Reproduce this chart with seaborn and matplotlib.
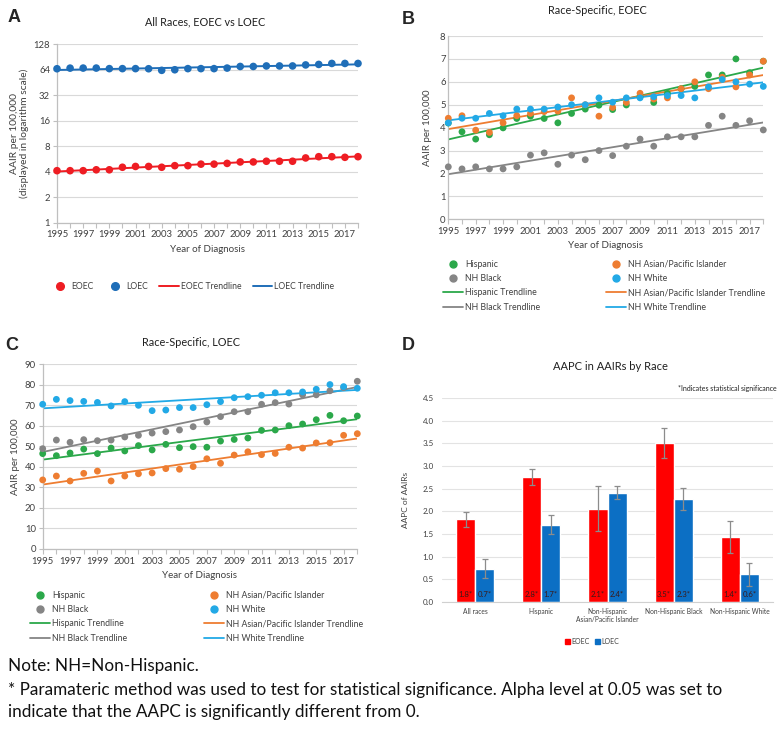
import numpy as np
import pandas as pd
import matplotlib
matplotlib.use("Agg")
import matplotlib.pyplot as plt
import seaborn as sns
from matplotlib.lines import Line2D
from matplotlib.patches import Patch
from matplotlib.ticker import FixedLocator, MultipleLocator

# ---------------- data ----------------
years = list(range(1995, 2019))

# Panel A: all races (log scale)
a_eoec = [4.1, 4.1, 4.1, 4.2, 4.2, 4.5, 4.6, 4.6, 4.5, 4.7, 4.7, 4.9, 4.9, 5.0,
          5.2, 5.2, 5.3, 5.3, 5.3, 5.8, 6.0, 6.0, 5.9, 6.0]
a_loec = [65.8, 66.9, 67.0, 67.0, 66.0, 66.0, 66.0, 65.8, 63.0, 64.0, 66.0, 66.0,
          66.0, 67.0, 70.0, 70.0, 71.0, 71.0, 71.0, 73.0, 74.0, 76.0, 76.0, 76.0]

# Panel B: race-specific EOEC
b_hispanic = [4.2, 3.82, 3.5, 3.69, 3.99, 4.4, 4.5, 4.4, 4.21, 4.62, 4.81, 4.98,
              4.79, 4.99, 5.35, 5.1, 5.5, 5.7, 5.8, 6.3, 6.3, 7.0, 6.4, 6.9]
b_api = [4.41, 4.52, 3.89, 3.79, 4.21, 4.52, 4.62, 4.7, 4.72, 5.3, 5.0, 4.5,
         4.88, 5.1, 5.5, 5.25, 5.3, 5.7, 6.0, 5.7, 6.2, 5.78, 6.3, 6.9]
b_black = [2.29, 2.2, 2.29, 2.2, 2.2, 2.29, 2.8, 2.9, 2.4, 2.8, 2.6, 3.0,
           2.78, 3.19, 3.5, 3.19, 3.6, 3.6, 3.6, 4.1, 4.5, 4.1, 4.3, 3.9]
b_white = [4.21, 4.41, 4.41, 4.62, 4.52, 4.81, 4.81, 4.81, 4.9, 5.0, 5.0, 5.3,
           5.11, 5.3, 5.3, 5.35, 5.4, 5.4, 5.3, 5.78, 6.1, 6.0, 5.9, 5.8]

# Panel C: race-specific LOEC
c_hispanic = [46.4, 45.4, 46.7, 48.6, 46.4, 49.1, 47.7, 50.3, 48.2, 50.9, 49.3, 49.8,
              49.5, 52.5, 53.3, 54.0, 57.7, 57.9, 60.0, 60.8, 62.9, 65.0, 62.4, 64.7]
c_api = [33.6, 35.5, 33.1, 36.8, 37.9, 33.1, 35.5, 36.6, 37.0, 39.1, 38.8, 40.1,
         43.9, 41.7, 45.7, 47.3, 45.9, 46.5, 49.5, 49.1, 51.6, 51.7, 55.3, 56.1]
c_black = [48.8, 53.0, 51.9, 53.2, 52.7, 53.0, 54.5, 55.3, 56.4, 57.1, 57.9, 59.5,
           61.8, 64.4, 66.8, 66.8, 70.4, 71.2, 70.5, 75.0, 75.0, 77.0, 78.5, 81.6]
c_white = [70.4, 72.8, 72.2, 71.8, 71.3, 69.6, 71.7, 69.9, 67.3, 67.6, 68.8, 68.8,
           70.2, 71.7, 73.6, 74.1, 74.8, 76.0, 76.0, 76.4, 77.7, 80.0, 79.0, 78.2]

# Panel D: AAPC
d_categories = ["All races", "Hispanic", "Non-Hispanic\nAsian/Pacific Islander",
                "Non-Hispanic Black", "Non-Hispanic White"]
d_eoec = [1.82, 2.76, 2.06, 3.51, 1.43]
d_loec = [0.73, 1.70, 2.41, 2.27, 0.61]
d_eoec_hi = [1.98, 2.93, 2.56, 3.84, 1.79]
d_eoec_lo = [1.66, 2.59, 1.56, 3.18, 1.07]
d_loec_hi = [0.94, 1.91, 2.55, 2.51, 0.86]
d_loec_lo = [0.52, 1.49, 2.27, 2.03, 0.36]
d_eoec_labels = ["1.8*", "2.8*", "2.1*", "3.5*", "1.4*"]
d_loec_labels = ["0.7*", "1.7*", "2.4*", "2.3*", "0.6*"]

# ---------------- style ----------------
sns.set_style("white")
plt.rcParams['font.family'] = ['Lato', 'DejaVu Sans']
TXT = '#404040'
GRID = '#D9D9D9'
SPINE = '#BFBFBF'

RED_A, BLUE_A = '#EE1D23', '#1F6EB8'
GREEN, ORANGE, GRAY, LBLUE = '#2BA84A', '#EE7D31', '#858585', '#22A9E6'
RED_D, BLUE_D = '#FF0000', '#0C6FC4'

fig = plt.figure(figsize=(7.8, 7.38), dpi=100)
W, H = 780.0, 738.0


def rect(l, t, r, b):
    return [l / W, 1 - b / H, (r - l) / W, (b - t) / H]


def fxy(x, y):
    return (x / W, 1 - y / H)


def style_line_axes(ax, yticklen=3):
    ax.set_xlim(1995, 2018)
    ax.xaxis.set_major_locator(FixedLocator(list(range(1995, 2018, 2))))
    ax.xaxis.set_minor_locator(FixedLocator(years))
    ax.tick_params(axis='x', which='both', direction='out', length=3.5, width=0.8,
                   color=SPINE, labelsize=6.8, labelcolor=TXT, pad=2, bottom=True)
    ax.tick_params(axis='y', which='both', direction='out', length=yticklen, width=0.8,
                   color=SPINE, labelsize=6.8, labelcolor=TXT, pad=2, left=True)
    for s in ['top', 'right']:
        ax.spines[s].set_visible(False)
    for s in ['left', 'bottom']:
        ax.spines[s].set_color(SPINE)
        ax.spines[s].set_linewidth(0.9)
    ax.grid(axis='y', color=GRID, lw=0.8)
    ax.grid(axis='x', visible=False)
    ax.set_axisbelow(True)
    ax.set_xlabel("Year of Diagnosis", fontsize=7, color=TXT, labelpad=4)


# ---------------- Panel A ----------------
axA = fig.add_axes(rect(57, 44.3, 358, 222.5))
dfA = pd.DataFrame({'year': years * 2, 'val': a_eoec + a_loec,
                    'grp': ['EOEC'] * 24 + ['LOEC'] * 24})
sns.scatterplot(data=dfA, x='year', y='val', hue='grp', palette=[RED_A, BLUE_A],
                s=30, edgecolor='none', ax=axA, legend=False, clip_on=False, zorder=3)
for vals, col in [(a_eoec, RED_A), (a_loec, BLUE_A)]:
    coef = np.polyfit(years, np.log(vals), 1)
    trend = np.exp(np.polyval(coef, years))
    sns.lineplot(x=years, y=trend, color=col, lw=1.4, ax=axA, zorder=2)
axA.set_yscale('log', base=2)
axA.set_ylim(1, 128)
axA.yaxis.set_major_locator(FixedLocator([1, 2, 4, 8, 16, 32, 64, 128]))
axA.yaxis.set_minor_locator(FixedLocator([]))
axA.set_yticklabels(['1', '2', '4', '8', '16', '32', '64', '128'])
style_line_axes(axA)
axA.set_ylabel("AAIR per 100,000\n(displayed in logarithm scale)", fontsize=7.4,
               color=TXT, labelpad=3, linespacing=1.15)

handlesA = [Line2D([], [], ls='', marker='o', ms=5.5, color=RED_A),
            Line2D([], [], ls='', marker='o', ms=5.5, color=BLUE_A),
            Line2D([], [], color=RED_A, lw=1.4),
            Line2D([], [], color=BLUE_A, lw=1.4)]
fig.legend(handlesA, ['EOEC', 'LOEC', 'EOEC Trendline', 'LOEC Trendline'],
           loc='center', bbox_to_anchor=fxy(192, 287), ncol=4, frameon=False,
           fontsize=6.2, handlelength=2.3, handletextpad=0.2, columnspacing=1.3,
           borderpad=0, labelcolor=TXT)

# ---------------- Panel B & C ----------------
def race_panel(ax, hisp, api, black, white):
    df = pd.DataFrame({'year': years * 4, 'val': hisp + api + black + white,
                       'grp': ['Hispanic'] * 24 + ['NH Asian/Pacific Islander'] * 24 +
                              ['NH Black'] * 24 + ['NH White'] * 24})
    sns.scatterplot(data=df, x='year', y='val', hue='grp',
                    palette=[GREEN, ORANGE, GRAY, LBLUE], s=24, edgecolor='none',
                    ax=ax, legend=False, clip_on=False, zorder=3)
    for vals, col in [(hisp, GREEN), (api, ORANGE), (black, GRAY), (white, LBLUE)]:
        sns.regplot(x=years, y=vals, scatter=False, ci=None, color=col,
                    line_kws={'lw': 1.3, 'zorder': 2}, ax=ax, truncate=True)


axB = fig.add_axes(rect(448.3, 36, 763.3, 219.3))
race_panel(axB, b_hispanic, b_api, b_black, b_white)
axB.set_ylim(0, 8)
axB.yaxis.set_major_locator(MultipleLocator(1))
style_line_axes(axB, yticklen=0)
axB.set_ylabel("AAIR per 100,000", fontsize=7, color=TXT, labelpad=6)

axC = fig.add_axes(rect(42.7, 364, 357.3, 549))
race_panel(axC, c_hispanic, c_api, c_black, c_white)
axC.set_ylim(0, 90)
axC.yaxis.set_major_locator(MultipleLocator(10))
style_line_axes(axC)
axC.set_ylabel("AAIR per 100,000", fontsize=7, color=TXT, labelpad=3)


def race_legends(x1, x2, ytop):
    col1 = [Line2D([], [], ls='', marker='o', ms=5, color=GREEN),
            Line2D([], [], ls='', marker='o', ms=5, color=GRAY),
            Line2D([], [], color=GREEN, lw=1.3),
            Line2D([], [], color=GRAY, lw=1.3)]
    col2 = [Line2D([], [], ls='', marker='o', ms=5, color=ORANGE),
            Line2D([], [], ls='', marker='o', ms=5, color=LBLUE),
            Line2D([], [], color=ORANGE, lw=1.3),
            Line2D([], [], color=LBLUE, lw=1.3)]
    lab1 = ['Hispanic', 'NH Black', 'Hispanic Trendline', 'NH Black Trendline']
    lab2 = ['NH Asian/Pacific Islander', 'NH White',
            'NH Asian/Pacific Islander Trendline', 'NH White Trendline']
    for hs, ls, x in [(col1, lab1, x1), (col2, lab2, x2)]:
        fig.legend(hs, ls, loc='upper left', bbox_to_anchor=fxy(x, ytop), ncol=1,
                   frameon=False, fontsize=6.3, handlelength=2.3, handletextpad=0.2,
                   labelspacing=0.6, borderpad=0, borderaxespad=0, labelcolor=TXT)


race_legends(443, 606, 260)
race_legends(30, 204, 591)

# ---------------- Panel D ----------------
axD = fig.add_axes(rect(442, 398, 773, 602))
dfD = pd.DataFrame({'cat': d_categories * 2, 'val': d_eoec + d_loec,
                    'grp': ['EOEC'] * 5 + ['LOEC'] * 5})
sns.barplot(data=dfD, x='cat', y='val', hue='grp', palette=[RED_D, BLUE_D],
            saturation=1, width=0.58, errorbar=None, ax=axD, legend=False, zorder=2)
for cont, vals, lo, hi, labs in [(axD.containers[0], d_eoec, d_eoec_lo, d_eoec_hi, d_eoec_labels),
                                 (axD.containers[1], d_loec, d_loec_lo, d_loec_hi, d_loec_labels)]:
    xs = [b.get_x() + b.get_width() / 2 for b in cont]
    yerr = [np.array(vals) - np.array(lo), np.array(hi) - np.array(vals)]
    axD.errorbar(xs, vals, yerr=yerr, fmt='none', ecolor='#8C8C8C', elinewidth=0.9,
                 capsize=2.5, capthick=0.9, zorder=3)
    for x, lab in zip(xs, labs):
        axD.text(x, 0.17, lab, ha='center', va='center', fontsize=5.6, color='#3A1A1A')
axD.set_ylim(0, 4.5)
axD.set_xlim(-0.5, 4.5)
axD.yaxis.set_major_locator(MultipleLocator(0.5))
axD.yaxis.set_major_formatter(matplotlib.ticker.FormatStrFormatter('%.1f'))
axD.grid(axis='y', color='#E3E3E3', lw=0.8)
axD.set_axisbelow(True)
for s in ['top', 'right', 'left']:
    axD.spines[s].set_visible(False)
axD.spines['bottom'].set_color('#D0D0D0')
axD.tick_params(axis='y', length=0, labelsize=5.8, labelcolor=TXT, pad=6)
axD.tick_params(axis='x', length=0, labelsize=4.8, labelcolor=TXT, pad=4)
axD.set_xlabel("")
axD.set_ylabel("AAPC of AAIRs", fontsize=6, color=TXT, labelpad=10)
fig.legend([Patch(color=RED_D), Patch(color=BLUE_D)], ['EOEC', 'LOEC'],
           loc='center', bbox_to_anchor=fxy(592, 641), ncol=2, frameon=False,
           fontsize=5.0, handlelength=0.7, handleheight=0.7, handletextpad=0.2,
           columnspacing=0.8, labelcolor=TXT)
fig.text(*fxy(777, 389), "*Indicates statistical significance", fontsize=5.0,
         color='#202020', ha='right', va='center')

# ---------------- titles & letters ----------------
fig.text(*fxy(205, 22), "All Races, EOEC vs LOEC", fontsize=7.8, color='#202020',
         ha='center', va='center')
fig.text(*fxy(597, 11), "Race-Specific, EOEC", fontsize=7.8, color='#202020',
         ha='center', va='center')
fig.text(*fxy(191, 342), "Race-Specific, LOEC", fontsize=7.8, color='#202020',
         ha='center', va='center')
fig.text(*fxy(610, 367), "AAPC in AAIRs by Race", fontsize=8.0, color='#202020',
         ha='center', va='center')
for lt, (x, y) in [('A', (14, 17)), ('B', (408, 19)), ('C', (12, 346)), ('D', (408, 346))]:
    fig.text(*fxy(x, y), lt, fontsize=13, fontweight='bold', ha='center', va='center',
             family=['Liberation Sans', 'DejaVu Sans'])

# ---------------- notes ----------------
notes = ["Note: NH=Non-Hispanic.",
         "* Paramateric method was used to test for statistical significance. Alpha level at 0.05 was set to",
         "indicate that the AAPC is significantly different from 0."]
for txt, y in zip(notes, [666, 690, 712]):
    fig.text(*fxy(8, y), txt, fontsize=12.3, color='#111111', ha='left', va='center')

fig.savefig("out.png", dpi=100)
